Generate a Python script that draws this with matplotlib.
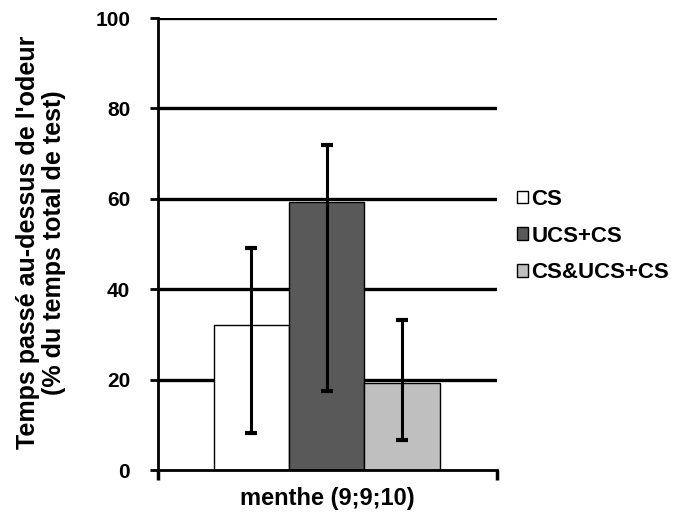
import numpy as np
import matplotlib
matplotlib.use('Agg')
import matplotlib.pyplot as plt

plt.rcParams['font.family'] = ['Liberation Sans', 'DejaVu Sans']
plt.rcParams['font.weight'] = 'bold'

# Werte
groupes = ['CS', 'UCS+CS', 'CS&UCS+CS']
moyennes = [32.0, 59.3, 19.2]
err_haut = [49.1, 71.9, 33.2]
err_bas = [8.2, 17.5, 6.6]
couleurs = ['white', '#595959', '#bfbfbf']
yticks = [0, 20, 40, 60, 80, 100]
categorie = 'menthe (9;9;10)'

fig = plt.figure(figsize=(6.77, 5.27), dpi=100)
ax = fig.add_axes([0.2334, 0.108, 0.5007, 0.8578])

pos = np.array([-1.0, 0.0, 1.0])
yerr = [np.array(moyennes) - np.array(err_bas), np.array(err_haut) - np.array(moyennes)]

for y in yticks[1:]:
    ax.axhline(y, color='black', lw=2.4, zorder=1)

for i in range(3):
    ax.bar(pos[i], moyennes[i], width=1.0, color=couleurs[i], edgecolor='black',
           linewidth=1, zorder=2, label=groupes[i])
ax.errorbar(pos, moyennes, yerr=yerr, fmt='none', ecolor='black', elinewidth=2.2,
            capsize=4.5, capthick=3, zorder=3)

xmin, xmax = -2.24, 2.26
ax.set_xlim(xmin, xmax)
ax.set_ylim(0, 100)
ax.set_yticks(yticks)
ax.set_yticklabels([str(v) for v in yticks], fontsize=15, fontweight='bold')
ax.set_xticks([xmin, xmax])
ax.set_xticklabels(['', ''])
ax.tick_params(axis='y', direction='out', length=6, width=2, pad=14)
ax.tick_params(axis='x', direction='out', length=7, width=2.5)
for s in ['top', 'right']:
    ax.spines[s].set_visible(False)
for s in ['left', 'bottom']:
    ax.spines[s].set_linewidth(2)

fig.text(0.483, 0.055, categorie, fontsize=17, fontweight='bold',
         ha='center', va='center')
fig.text(0.0606, 0.54, "Temps passé au-dessus de l'odeur\n(% du temps total de test)",
         fontsize=18, fontweight='bold', rotation=90, ha='center', va='center',
         multialignment='center', linespacing=1.1)

leg = fig.legend(loc='center left', bbox_to_anchor=(0.7637, 0.552), frameon=False,
                 fontsize=16, handlelength=0.5, handleheight=0.5, handletextpad=0.15,
                 labelspacing=0.7, borderpad=0, borderaxespad=0)

fig.savefig('out.png', dpi=100)
